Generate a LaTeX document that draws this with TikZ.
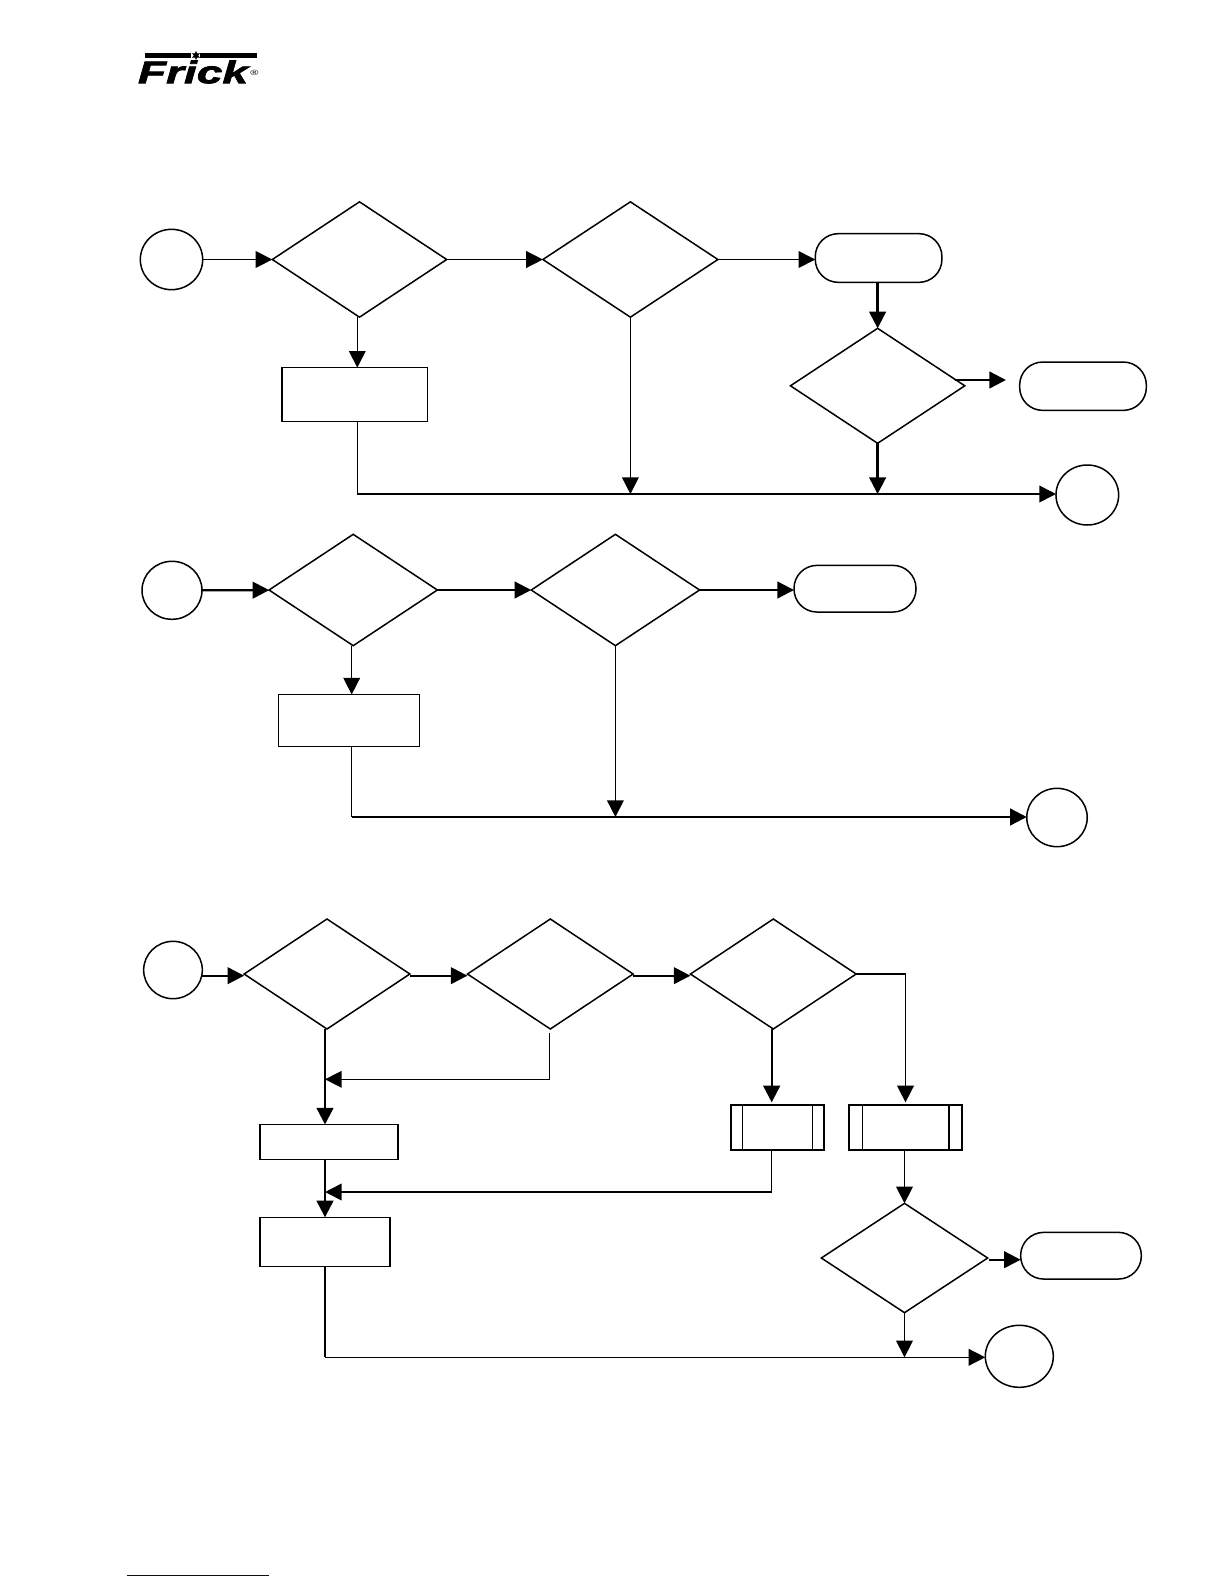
\documentclass[tikz,border=0pt]{standalone}
\usepackage{fontspec}
\usepackage{graphicx}
\usetikzlibrary{arrows.meta,shapes.geometric}
\newfontfamily\logofont[FakeStretch=1.47,BoldItalicFeatures={FakeBold=2.4}]{Liberation Sans}
\tikzset{
  shapeline/.style={draw=black, line width=0.9pt, inner sep=0pt, outer sep=0pt},
  decision/.style 2 args={diamond, shapeline, minimum width=#1pt, minimum height=#2pt},
  conn/.style 2 args={ellipse, shapeline, minimum width=#1pt, minimum height=#2pt},
  term/.style 2 args={rectangle, shapeline, rounded corners=13.8pt, minimum width=#1pt, minimum height=#2pt},
  proc/.style 2 args={rectangle, shapeline, minimum width=#1pt, minimum height=#2pt},
  subproc/.style 2 args={rectangle, shapeline, line width=1.2pt, minimum width=#1pt, minimum height=26.8pt,
    path picture={
      \draw[line width=0.8pt] ([xshift=#2pt]path picture bounding box.north west)--([xshift=#2pt]path picture bounding box.south west);
      \draw[line width=0.8pt] ([xshift=-#2pt]path picture bounding box.north east)--([xshift=-#2pt]path picture bounding box.south east);
    }},
  flow/.style={-{Triangle[length=10pt,width=10pt]}, line width=0.9pt},
  flowb/.style={flow, line width=1.4pt},
  flowm/.style={flow, line width=1.1pt},
  plain/.style={line width=0.9pt},
  plainb/.style={line width=1.4pt}
}
\begin{document}
\begin{tikzpicture}[x=0.6pt,y=-0.6pt]
  \useasboundingbox (0,0) rectangle (1224,1584);

  % logo
  \fill (145,52.5) rectangle (191,58);
  \fill (200,52.5) rectangle (257,58);
  \node[star, star points=6, star point ratio=2, fill=black, inner sep=0pt, minimum size=5.5pt] (logostar) at (196,55.5) {};
  \node[inner sep=0pt, font=\logofont\bfseries\itshape\fontsize{18.8}{18.8}\selectfont] (logo) at (193,72) {Frick};
  \node[inner sep=0pt, font=\fontsize{4.5}{4.5}\selectfont] (logoreg) at (254.5,72.5) {\logofont ®};

  % first flow
  \node[conn={37.4}{36.2}] (start1) at (171.5,259.5) {};
  \node[decision={104.6}{69.2}] (dec1) at (359.5,259.5) {};
  \node[decision={105}{69.2}] (dec2) at (630.4,259.5) {};
  \node[term={76}{29.2}] (term1) at (878.6,258) {};
  \node[decision={104.6}{69}] (dec3) at (877.6,385.8) {};
  \node[term={76}{29}] (term2) at (1083,386.2) {};
  \node[proc={87.2}{32.2}] (proc1) at (354.7,394.5) {};
  \node[conn={37.6}{36}] (end1) at (1087.3,495) {};
  \coordinate (bus1) at (357.3,494);
  \coordinate (out3a) at (955,380);
  \coordinate (out3b) at (1006,380);
  \draw[flow] (start1) -- (dec1);
  \draw[flow] (dec1) -- (dec2);
  \draw[flow] (dec2) -- (term1.west |- dec2);
  \draw[flowb] (term1.south -| dec3.north) -- (dec3.north);
  \draw[flowb] (out3a) -- (out3b);
  \draw[flow] (dec1.south -| bus1) -- (proc1.north -| bus1);
  \draw[plain] (proc1.south -| bus1) -- (bus1);
  \draw[flowm] (bus1) -- (bus1 -| end1.west);
  \draw[flow] (dec2.south) -- (dec2.south |- bus1);
  \draw[flowb] (dec3.south) -- (dec3.south |- bus1);

  % second flow
  \node[conn={36}{34.8}] (start2) at (172,590.3) {};
  \node[decision={101}{66.8}] (dec4) at (353.2,590) {};
  \node[decision={101}{66.8}] (dec5) at (615.4,590) {};
  \node[term={73.2}{28}] (term3) at (855,588.7) {};
  \node[proc={84.4}{31.2}] (proc2) at (349,720.5) {};
  \node[conn={36.3}{35}] (end2) at (1057,817.5) {};
  \coordinate (bus2) at (351.7,817);
  \draw[flowb] (start2) -- (dec4);
  \draw[flowb] (dec4) -- (dec5);
  \draw[flowb] (dec5) -- (term3.west |- dec5);
  \draw[flow] (dec4.south -| bus2) -- (proc2.north -| bus2);
  \draw[plain] (proc2.south -| bus2) -- (bus2);
  \draw[flowb] (bus2) -- (bus2 -| end2.west);
  \draw[flow] (dec5.south) -- (dec5.south |- bus2);

  % third flow
  \node[conn={35.2}{34.4}] (start3) at (173,970) {};
  \node[decision={99.4}{66}] (dec6) at (327,974) {};
  \node[decision={99.4}{66}] (dec7) at (550.3,974) {};
  \node[decision={99.4}{66}] (dec8) at (773.3,974) {};
  \node[proc={82.8}{21}] (proc3) at (329,1142) {};
  \node[proc={78}{29.4}] (proc4) at (325,1241.8) {};
  \node[subproc={56}{7}] (sub1) at (777.5,1127.7) {};
  \node[subproc={68}{8}] (sub2) at (905.5,1127.7) {};
  \node[decision={99.8}{65.6}] (dec9) at (904.5,1258) {};
  \node[term={72.4}{28}] (term4) at (1081,1255.7) {};
  \node[conn={40.8}{37.2}] (end3) at (1019.3,1356.3) {};
  \coordinate (bus3) at (325,1357.3);
  \coordinate (join1) at (325,1079.3);
  \coordinate (join2) at (325,1192);
  \coordinate (back1) at (549.3,1033);
  \coordinate (back2) at (771.7,1192);
  \coordinate (out9) at (989.3,1259.7);
  \draw[flowb] ([yshift=-1pt]dec6.west -| start3.east) -- ([yshift=-1pt]dec6.west);
  \draw[flowb] ([yshift=-1pt]dec6.east) -- ([yshift=-1pt]dec7.west);
  \draw[flowb] ([yshift=-1pt]dec7.east) -- ([yshift=-1pt]dec8.west);
  \draw[flowb] (dec6.south -| bus3) -- (proc3.north -| bus3);
  \draw[flowb] (proc3.south -| bus3) -- (proc4.north -| bus3);
  \draw[plainb] (proc4.south -| bus3) -- (bus3);
  \draw[flow] (bus3) -- (bus3 -| end3.west);
  \draw[flow] (back1) |- (join1);
  \draw[flowb,shorten >=1.8pt] (dec8.south -| back2) -- (sub1.north -| back2);
  \draw[flow] (sub1.south -| back2) -- (back2) -- (join2);
  \draw[flow,shorten >=1.8pt] (dec8.east) -| (sub2.north);
  \draw[flow] (sub2.south -| dec9.north) -- (dec9.north);
  \draw[flowb] (out9) -- (out9 -| term4.west);
  \draw[flow] (dec9.south) -- (dec9.south |- bus3);

  \draw[draw={rgb,255:red,0;green,0;blue,128}, line width=0.8pt] (127.3,1575.3) -- (269,1575.3);
\end{tikzpicture}
\end{document}
